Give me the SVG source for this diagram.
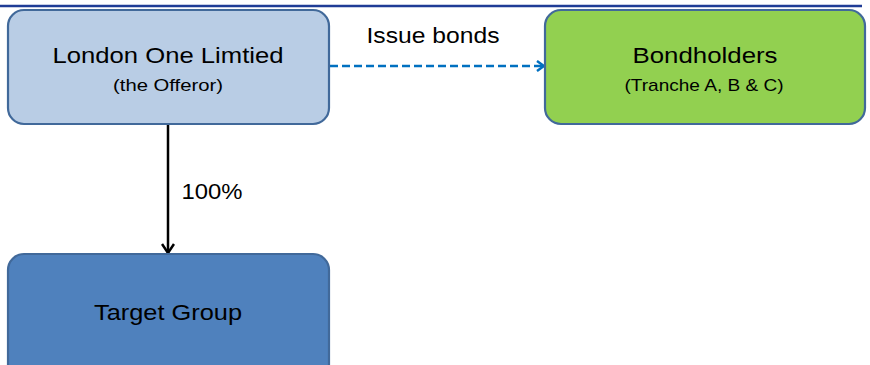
<svg xmlns="http://www.w3.org/2000/svg" width="870" height="365" viewBox="0 0 870 365">
<defs>
<style>
.box{stroke:#41699A;stroke-width:2.2}
.t{font-family:"Liberation Sans",Arial,sans-serif;fill:#000;text-anchor:middle}
.big{font-size:22.5px}
.small{font-size:17px}
</style>
<marker id="headBlue" viewBox="0 0 12 12" refX="10" refY="6" markerWidth="12" markerHeight="12" markerUnits="userSpaceOnUse" orient="auto">
<path d="M3,1 L10,6 L3,11" fill="none" stroke="#0070C0" stroke-width="2.5"/>
</marker>
<marker id="headBlack" viewBox="0 0 14 14" refX="12" refY="7" markerWidth="14" markerHeight="14" markerUnits="userSpaceOnUse" orient="auto">
<path d="M3,1 L12,7 L3,13" fill="none" stroke="#000" stroke-width="2.5"/>
</marker>
</defs>
<rect width="870" height="365" fill="#fff"/>
<line x1="0" y1="6" x2="862" y2="6" stroke="#1F3C96" stroke-width="2.5"/>
<g id="connectors">
<line x1="330" y1="66" x2="544" y2="66" stroke="#0070C0" stroke-width="2.5" stroke-dasharray="8,4" marker-end="url(#headBlue)"/>
<line x1="168" y1="124" x2="168" y2="253" stroke="#000" stroke-width="2.5" marker-end="url(#headBlack)"/>
<text class="t big" x="433" y="43" textLength="133" lengthAdjust="spacingAndGlyphs">Issue bonds</text>
<text class="t big" x="212" y="199" textLength="61" lengthAdjust="spacingAndGlyphs">100%</text>
</g>
<g id="london">
<rect class="box" x="8" y="10" width="321" height="114" rx="16" fill="#B9CDE5"/>
<text class="t big" x="168" y="63" textLength="231" lengthAdjust="spacingAndGlyphs">London One Limtied</text>
<text class="t small" x="168" y="91" textLength="110" lengthAdjust="spacingAndGlyphs">(the Offeror)</text>
</g>
<g id="bondholders">
<rect class="box" x="545" y="10" width="320" height="114" rx="16" fill="#92D050"/>
<text class="t big" x="705" y="63" textLength="145" lengthAdjust="spacingAndGlyphs">Bondholders</text>
<text class="t small" x="704" y="91" textLength="159" lengthAdjust="spacingAndGlyphs">(Tranche A, B &amp; C)</text>
</g>
<g id="target">
<rect class="box" x="8" y="254" width="321" height="130" rx="16" fill="#4F81BD"/>
<text class="t big" x="168" y="320" textLength="148" lengthAdjust="spacingAndGlyphs">Target Group</text>
</g>
</svg>
